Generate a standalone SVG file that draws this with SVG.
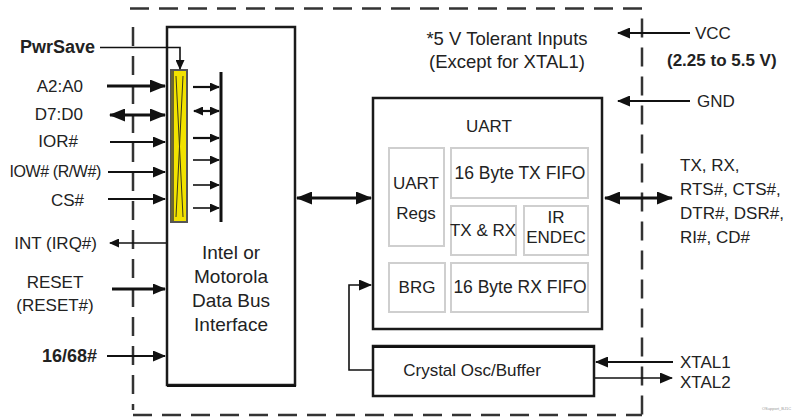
<svg xmlns="http://www.w3.org/2000/svg" width="797" height="418" viewBox="0 0 797 418">
<defs>
<style>
text{font-family:"Liberation Sans",Arial,sans-serif;font-size:17px;fill:#222;}
.b{font-weight:bold;}
.m{text-anchor:middle;}
.e{text-anchor:end;}
.box{fill:#fff;stroke:#1a1a1a;stroke-width:2.5;}
.ibox{fill:#fff;stroke:#cfcfcf;stroke-width:2;}
.dash{fill:none;stroke:#333;stroke-width:2.5;stroke-dasharray:19 10;}
.w1{fill:none;stroke:#111;stroke-width:1.6;}
.w2{fill:none;stroke:#111;stroke-width:2.2;}
.w3{fill:none;stroke:#111;stroke-width:3;}
</style>
<marker id="big" markerUnits="userSpaceOnUse" markerWidth="17" markerHeight="13" refX="15" refY="6.5" orient="auto-start-reverse"><path d="M0,0 L16,6.5 L0,13 z" fill="#111"/></marker>
<marker id="med" markerUnits="userSpaceOnUse" markerWidth="13" markerHeight="11" refX="12" refY="5.5" orient="auto-start-reverse"><path d="M0,0 L13,5.5 L0,11 z" fill="#111"/></marker>
<marker id="sm" markerUnits="userSpaceOnUse" markerWidth="10" markerHeight="9" refX="9" refY="4.5" orient="auto-start-reverse"><path d="M0,0 L10,4.5 L0,9 z" fill="#111"/></marker>
</defs>
<rect width="797" height="418" fill="#fff"/>

<g id="boundary">
<path class="dash" d="M130,8.5 H642 V418"/>
<path class="dash" d="M133,27 V410"/>
<path class="dash" d="M133,415 H642"/>
</g>

<g id="interface">
<rect class="box" x="167" y="27" width="128" height="358"/>
<line x1="167" y1="386" x2="296" y2="386" stroke="#111" stroke-width="2"/>
<text class="m" x="231" y="259" style="font-size:19px">Intel or</text>
<text class="m" x="231" y="283" style="font-size:19px">Motorola</text>
<text class="m" x="231" y="307" style="font-size:19px">Data Bus</text>
<text class="m" x="231" y="331" style="font-size:19px">Interface</text>
</g>

<g id="buffer">
<rect x="171" y="70" width="16" height="152" fill="#f2e200" stroke="#555" stroke-width="2"/>
<rect x="171" y="71" width="3" height="150" fill="#6b6530"/>
<path d="M176,76 L183,217 M183,76 L176,217" stroke="#3a3a1a" stroke-width="1"/>
<line x1="221" y1="72" x2="221" y2="222" stroke="#111" stroke-width="3"/>
</g>

<g id="uart">
<rect class="box" x="373" y="98" width="229" height="231" stroke-width="3"/>
<text class="m" x="489" y="132">UART</text>
</g>
<g id="uart-regs">
<rect class="ibox" x="389" y="148" width="55" height="98"/>
<text class="m" x="416" y="189">UART</text>
<text class="m" x="416" y="219">Regs</text>
</g>
<g id="tx-fifo">
<rect class="ibox" x="451" y="148" width="137" height="50"/>
<text class="m" x="520" y="179" style="font-size:17.5px">16 Byte TX FIFO</text>
</g>
<g id="tx-rx">
<rect class="ibox" x="451" y="206" width="65" height="49"/>
<text class="m" x="483" y="236">TX &amp; RX</text>
</g>
<g id="ir-endec">
<rect class="ibox" x="524" y="206" width="64" height="49"/>
<text class="m" x="556" y="223">IR</text>
<text class="m" x="556" y="243">ENDEC</text>
</g>
<g id="brg">
<rect class="ibox" x="389" y="263" width="56" height="49"/>
<text class="m" x="417" y="293">BRG</text>
</g>
<g id="rx-fifo">
<rect class="ibox" x="451" y="263" width="137" height="49"/>
<text class="m" x="520" y="293" style="font-size:17.5px">16 Byte RX FIFO</text>
</g>

<g id="crystal">
<rect class="box" x="373" y="346" width="221" height="50"/>
<line x1="372" y1="347" x2="595" y2="347" stroke="#111" stroke-width="2"/>
<text class="m" x="472" y="376">Crystal Osc/Buffer</text>
</g>

<g id="connectors">
<path class="w1" d="M100,47.5 H180 V69" marker-end="url(#sm)"/>
<line class="w3" x1="107" y1="86" x2="165" y2="86" marker-end="url(#big)"/>
<line class="w3" x1="110" y1="115" x2="165" y2="115" marker-start="url(#big)" marker-end="url(#big)"/>
<line class="w2" x1="110" y1="142" x2="165" y2="142" marker-end="url(#med)"/>
<line class="w2" x1="108" y1="172" x2="165" y2="172" marker-end="url(#med)"/>
<line class="w2" x1="108" y1="199" x2="165" y2="199" marker-end="url(#med)"/>
<line class="w1" x1="166" y1="243" x2="110" y2="243" marker-end="url(#sm)"/>
<line class="w3" x1="112" y1="289" x2="165" y2="289" marker-end="url(#med)"/>
<line class="w2" x1="107" y1="356" x2="165" y2="356" marker-end="url(#med)"/>

<line class="w2" x1="193" y1="87" x2="219" y2="87" marker-end="url(#sm)"/>
<line class="w2" x1="194" y1="111" x2="219" y2="111" marker-start="url(#sm)" marker-end="url(#sm)"/>
<line class="w2" x1="193" y1="138" x2="219" y2="138" marker-end="url(#sm)"/>
<line class="w1" x1="193" y1="160" x2="219" y2="160" marker-end="url(#sm)"/>
<line class="w1" x1="193" y1="185" x2="219" y2="185" marker-end="url(#sm)"/>
<line class="w1" x1="193" y1="208" x2="219" y2="208" marker-end="url(#sm)"/>

<line class="w3" x1="297" y1="198" x2="371" y2="198" marker-start="url(#big)" marker-end="url(#big)"/>
<line class="w3" x1="605" y1="198" x2="672" y2="198" marker-start="url(#big)" marker-end="url(#big)"/>

<line class="w2" x1="690" y1="33" x2="618" y2="33" marker-end="url(#med)"/>
<line class="w2" x1="690" y1="101" x2="618" y2="101" marker-end="url(#med)"/>

<path class="w1" d="M373,370 H349 V285 H371" marker-end="url(#med)"/>
<line class="w2" x1="673" y1="362" x2="596" y2="362" marker-end="url(#med)"/>
<line class="w1" x1="595" y1="378" x2="672" y2="378" marker-end="url(#med)"/>
</g>

<g id="labels">
<text class="b" x="20" y="53" style="font-size:18px">PwrSave</text>
<text class="e" x="83" y="92">A2:A0</text>
<text class="e" x="83" y="120">D7:D0</text>
<text class="e" x="78" y="147">IOR#</text>
<text class="e" x="101" y="177" style="font-size:16px;letter-spacing:-0.4px">IOW# (R/W#)</text>
<text class="e" x="84" y="206">CS#</text>
<text class="e" x="97" y="249">INT (IRQ#)</text>
<text class="m" x="55" y="288">RESET</text>
<text class="m" x="55" y="311">(RESET#)</text>
<text class="b e" x="97" y="362" style="font-size:18px">16/68#</text>
<text class="m" x="507" y="45" style="font-size:18.5px">*5 V Tolerant Inputs</text>
<text class="m" x="507" y="68" style="font-size:18.5px">(Except for XTAL1)</text>
<text x="695" y="39">VCC</text>
<text class="b" x="667" y="66">(2.25 to 5.5 V)</text>
<text x="697" y="107">GND</text>
<text x="680" y="171">TX, RX,</text>
<text x="680" y="195">RTS#, CTS#,</text>
<text x="680" y="219">DTR#, DSR#,</text>
<text x="680" y="243">RI#, CD#</text>
<text x="680" y="368">XTAL1</text>
<text x="680" y="388">XTAL2</text>
<text x="762" y="410" style="font-size:4px;fill:#999">OSupport_BJ1C</text>
</g>
</svg>
